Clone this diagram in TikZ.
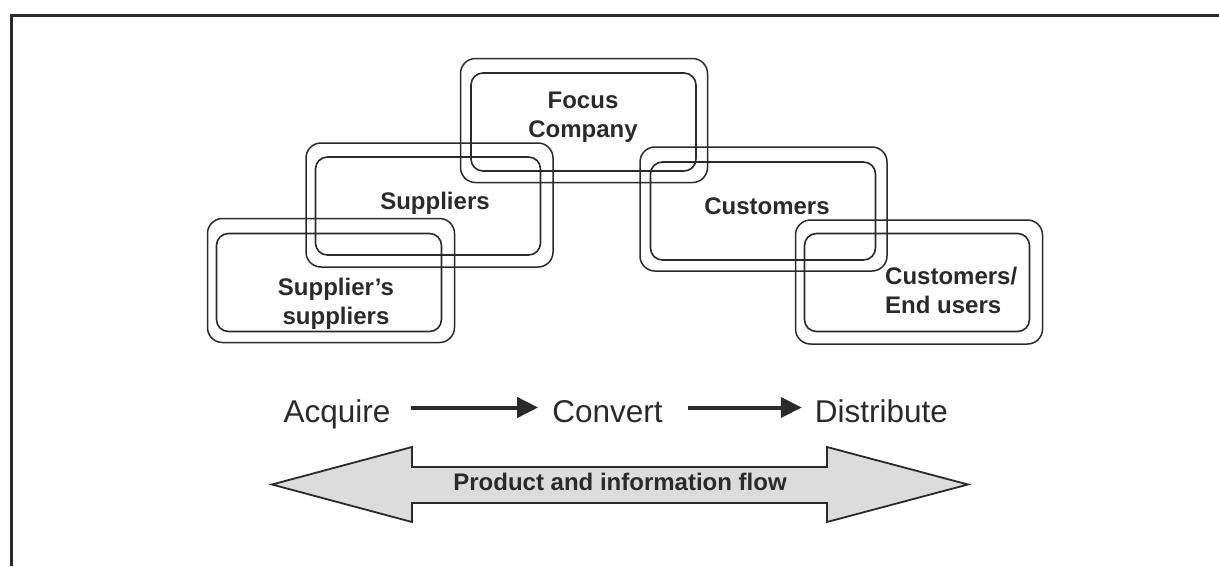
\documentclass[tikz,border=0pt]{standalone}
\usepackage{fontspec}
\setmainfont{Liberation Sans}
\usetikzlibrary{arrows.meta}
\definecolor{ink}{HTML}{2A2A2A}
\definecolor{flowfill}{HTML}{DCDCDC}
\tikzset{
  frameline/.style={draw=ink, line width=3pt},
  outerbox/.style={draw=ink, line width=1.5pt, rounded corners=15pt,
    minimum width=247pt, minimum height=124pt, inner sep=0pt},
  innerbox/.style={draw=ink, line width=1.6pt, rounded corners=12pt,
    minimum width=225pt, minimum height=98pt, inner sep=0pt},
  boxtext/.style={font=\fontsize{24}{28.5}\selectfont\bfseries, text=ink,
    align=center, inner sep=0pt},
  stagetext/.style={font=\fontsize{31.5}{36}\selectfont, text=ink, inner sep=0pt},
  flowarrow/.style={draw=ink, line width=4pt,
    -{Triangle[length=21pt,width=20pt]}},
  bigarrow/.style={draw=ink, line width=1.8pt, fill=flowfill, line join=miter},
  flowtext/.style={font=\fontsize{24}{28}\selectfont\bfseries, text=ink, inner sep=0pt}
}
\begin{document}
\begin{tikzpicture}[x=1pt, y=-1pt]
\useasboundingbox (0,0) rectangle (1219,566);
% frame (cropped)
\draw[frameline] (11.5,566) -- (11.5,15.5) -- (1219,15.5);

% Supplier's suppliers
\node[outerbox] (ssout) at (331,280.5) {};
\node[innerbox] (ssin) at (329,282.5) {};
% Suppliers
\node[outerbox] (supout) at (429.5,205) {};
\node[innerbox] (supin) at (428,206) {};
% Focus company
\node[outerbox] (fcout) at (584,120.5) {};
\node[innerbox] (fcin) at (583.5,122) {};
% Customers
\node[outerbox] (cuout) at (763.5,209) {};
\node[innerbox] (cuin) at (763,211) {};
% Customers / End users
\node[outerbox] (euout) at (919,282) {};
\node[innerbox] (euin) at (917,282.5) {};

% box labels
\node[boxtext, anchor=north] (fctext) at (583,92) {Focus\\Company};
\node[boxtext, anchor=north] (suptext) at (435,192) {Suppliers};
\node[boxtext, anchor=north] (sstext) at (336,278) {Supplier’s\\suppliers};
\node[boxtext, anchor=north] (cutext) at (767,198) {Customers};
\node[boxtext, anchor=north west, align=left] (eutext) at (885,267) {Customers/\\End users};

% process row
\node[stagetext, anchor=base] (acq) at (337,422) {Acquire};
\node[stagetext, anchor=base] (conv) at (607.5,422) {Convert};
\node[stagetext, anchor=base] (dist) at (881.5,422) {Distribute};
\coordinate (row) at (0,407.5);
\draw[flowarrow, shorten <=20pt, shorten >=14pt] (acq.east |- row) -- (conv.west |- row);
\draw[flowarrow, shorten <=25pt, shorten >=13pt] (conv.east |- row) -- (dist.west |- row);

% product and information flow
\draw[bigarrow] (272,484.5) -- (412,447) -- (412,467) -- (827,467) -- (827,447)
  -- (968,484.5) -- (827,522) -- (827,503) -- (412,503) -- (412,522) -- cycle;
\node[flowtext, anchor=base] (flow) at (620,490) {Product and information flow};
\end{tikzpicture}
\end{document}
